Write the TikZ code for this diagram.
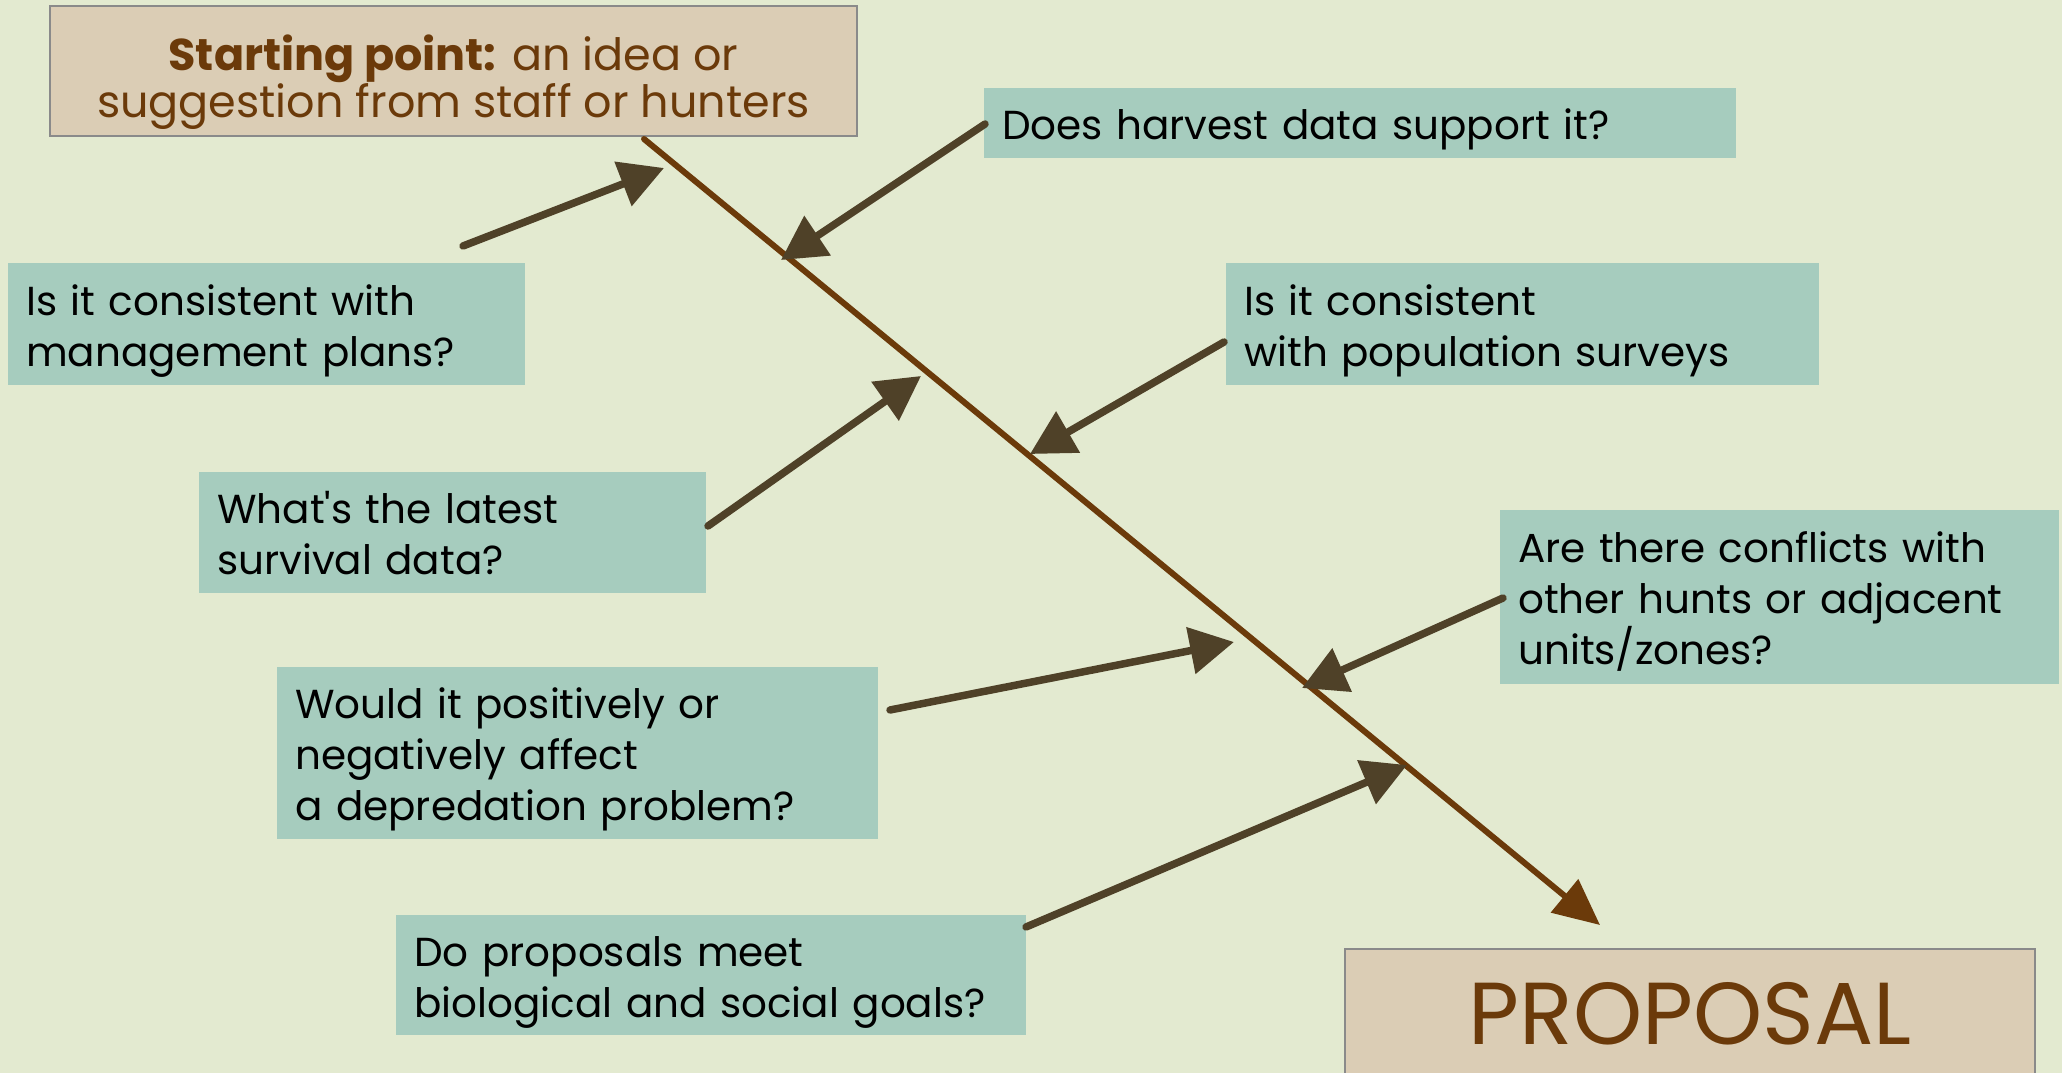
\documentclass[tikz,border=0pt]{standalone}
\usepackage{fontspec}
\setmainfont{Poppins}
\usetikzlibrary{arrows.meta}
\definecolor{bg}{HTML}{E3EAD0}
\definecolor{qfill}{HTML}{A6CCBE}
\definecolor{tanfill}{HTML}{DBCDB5}
\definecolor{tanedge}{HTML}{8A8A8A}
\definecolor{brownink}{HTML}{6B3A0A}
\definecolor{linkink}{HTML}{4F4128}
\begin{document}
\begin{tikzpicture}[x=1pt,y=-1pt,
  qbox/.style={anchor=north west,fill=qfill,draw=none,inner xsep=18pt,inner ysep=0pt,
    align=left,font=\fontsize{40.5}{51}\selectfont,text=black,
    % fixed first-line height and last-line depth, so every box centres alike
    execute at begin node={\rule{0pt}{45pt}},
    execute at end node={\rule[-12pt]{0pt}{12pt}}},
  tbox/.style={anchor=north west,fill=tanfill,draw=tanedge,line width=2pt,inner sep=0pt,
    align=center,text=brownink},
  link/.style={draw=linkink,line width=7.5pt,line cap=round,
    -{Triangle[length=44pt,width=46pt]}},
  spine/.style={draw=brownink,line width=6pt,line cap=round,
    -{Triangle[length=46pt,width=42pt]}}]
\useasboundingbox[fill=bg] (0,0) rectangle (2062,1073);

% starting point and outcome
\node[tbox,minimum width=807pt,minimum height=130pt] (start) at (49,5) {};
\node[align=center,text=brownink,inner sep=0pt,font=\fontsize{44.5}{46}\selectfont]
  (starttext) at ([yshift=-11pt]start.center)
  {\textbf{Starting point:} an idea or\\suggestion from staff or hunters};
\node[tbox,minimum width=690pt,minimum height=130pt,text width=680pt,
  font=\fontsize{88}{88}\selectfont] (proposal) at (1344,948) {PROPOSAL};

% question boxes
\node[qbox,minimum height=70pt,text width=716pt] (harvest) at (984,88)
  {Does harvest data support it?};
\node[qbox,minimum height=122pt,text width=481pt] (mgmt) at (8,263)
  {Is it consistent with\\management plans?};
\node[qbox,minimum height=122pt,text width=557pt] (pop) at (1226,263)
  {Is it consistent\\with population surveys};
\node[qbox,minimum height=121pt,text width=471pt] (surv) at (199,472)
  {What\textquotesingle s the latest\\survival data?};
\node[qbox,minimum height=174pt,text width=523pt] (conf) at (1500,510)
  {Are there conflicts with\\other hunts or adjacent\\units/zones?};
\node[qbox,minimum height=172pt,text width=565pt] (depr) at (277,667)
  {Would it positively or\\negatively affect\\a depredation problem?};
\node[qbox,minimum height=120pt,text width=594pt] (goals) at (396,915)
  {Do proposals meet\\biological and social goals?};

% spine of the diagram
\coordinate (s0) at (644,139);
\coordinate (s1) at (1600,925);
\draw[spine] (s0) -- (s1);

% feeder arrows: tails near the boxes, tips on the spine
\coordinate (a1) at (463,246);  \coordinate (b1) at (664,168);
\coordinate (a2) at (985,124);  \coordinate (b2) at (781,260);
\coordinate (a3) at (1224,342); \coordinate (b3) at (1030,454);
\coordinate (a4) at (708,526);  \coordinate (b4) at (921,376);
\coordinate (a5) at (1503,598); \coordinate (b5) at (1302,688);
\coordinate (a6) at (890,710);  \coordinate (b6) at (1234,642);
\coordinate (a7) at (1026,927); \coordinate (b7) at (1407,765);
\foreach \i in {1,...,7}{\draw[link] (a\i) -- (b\i);}
\end{tikzpicture}
\end{document}
